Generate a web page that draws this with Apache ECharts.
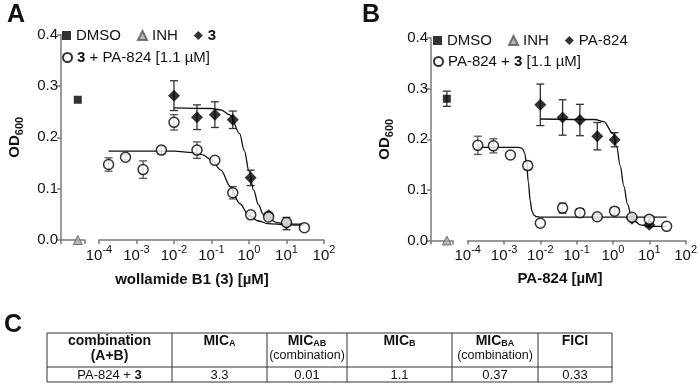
<!DOCTYPE html>
<html>
<head>
<meta charset="utf-8">
<script src="https://cdn.jsdelivr.net/npm/echarts@6/dist/echarts.min.js"></script>
<style>
  html, body { margin: 0; padding: 0; background: #fff; }
  #chart { width: 700px; height: 391px; }
</style>
</head>
<body>
<div id="chart"></div>
<script>
// ---- panel A: wollamide B1 (3) alone / with PA-824 [1.1 uM]
const dmsoA = 0.273;
const inhA = 0.0;
const concA3 = [0.01, 0.041, 0.123, 0.37, 1.11, 3.33, 10];
const odA3 = [0.281, 0.239, 0.244, 0.234, 0.121, 0.048, 0.032];
const errA3 = [0.029, 0.024, 0.025, 0.017, 0.015, 0.006, 0.012];
const concAmix = [1.8e-4, 5.1e-4, 1.5e-3, 4.6e-3, 0.01, 0.041, 0.123, 0.37, 1.11, 3.33, 10, 30];
const odAmix = [0.147, 0.161, 0.137, 0.175, 0.229, 0.175, 0.155, 0.092, 0.049, 0.045, 0.034, 0.024];
const errAmix = [0.013, 0.005, 0.017, 0.007, 0.015, 0.016, 0, 0.012, 0.004, 0, 0.004, 0];
// fitted curves
const fitA3x = [0.01, 0.1, 0.178, 0.316, 0.562, 0.75, 1, 1.33, 1.78, 2.37, 3.16, 5.62, 10, 30];
const fitA3y = [0.257, 0.256, 0.253, 0.243, 0.207, 0.174, 0.134, 0.097, 0.069, 0.051, 0.042, 0.034, 0.031, 0.031];
const fitAmixX = [1.8e-4, 0.01, 0.0316, 0.056, 0.1, 0.178, 0.316, 0.562, 1, 1.78, 3.16, 10, 30];
const fitAmixY = [0.173, 0.173, 0.170, 0.166, 0.156, 0.136, 0.104, 0.071, 0.048, 0.037, 0.032, 0.0295, 0.029];

// ---- panel B: PA-824 alone / with 3 [1.1 uM]
const dmsoB = 0.280;
const dmsoBerr = 0.015;
const inhB = 0.0;
const concBpa = [0.01, 0.041, 0.123, 0.37, 1.11, 3.33, 10];
const odBpa = [0.268, 0.243, 0.238, 0.206, 0.199, 0.043, 0.031];
const errBpa = [0.041, 0.035, 0.031, 0.027, 0.014, 0, 0.004];
const concBmix = [1.9e-4, 5.1e-4, 1.5e-3, 4.5e-3, 0.01, 0.041, 0.123, 0.37, 1.11, 3.33, 10, 30];
const odBmix = [0.188, 0.187, 0.169, 0.148, 0.034, 0.064, 0.055, 0.047, 0.058, 0.046, 0.042, 0.028];
const errBmix = [0.018, 0.014, 0, 0.008, 0, 0.010, 0.008, 0.004, 0.007, 0, 0.007, 0];
const fitBpaX = [0.01, 0.316, 0.562, 1, 1.26, 1.58, 2, 2.51, 3.16, 3.98, 5.62, 10, 30];
const fitBpaY = [0.240, 0.239, 0.235, 0.211, 0.186, 0.148, 0.107, 0.072, 0.050, 0.038, 0.031, 0.028, 0.028];
const fitBmixX = [1.9e-4, 2.5e-3, 2.95e-3, 3.31e-3, 3.72e-3, 4.17e-3, 4.68e-3, 5.25e-3, 5.89e-3, 6.61e-3, 7.94e-3, 0.01, 30];
const fitBmixY = [0.184, 0.184, 0.183, 0.180, 0.172, 0.152, 0.115, 0.079, 0.058, 0.050, 0.047, 0.046, 0.046];

// ---- panel C table
const colEdges = [47, 172, 267, 347, 452, 538, 612];
const headLine1 = ['{b|combination}', '{b|MIC}{s|A}', '{b|MIC}{s|AB}', '{b|MIC}{s|B}', '{b|MIC}{s|BA}', '{b|FICI}'];
const headLine2 = ['{b|(A+B)}', '', '(combination)', '', '(combination)', ''];
const rowCells = ['PA-824 + {b|3}', '3.3', '0.01', '1.1', '0.37', '0.33'];

const FONT = "'Liberation Sans', Arial, sans-serif";
const NARROW = "'Liberation Sans Narrow', 'Liberation Sans', Arial, sans-serif";
const AXIS_COLOR = '#7a7a7a';

const chart = echarts.init(document.getElementById('chart'));

const panels = [
  { top: 34.5, height: 205.5, yLeft: 61, breakW: 24, logLeft: 99, logW: 225, breakX: 0.7 },
  { top: 38, height: 202.5, yLeft: 431, breakW: 22, logLeft: 467.7, logW: 220.6, breakX: 0.72 }
];

const grids = [];
const xAxes = [];
const yAxes = [];
panels.forEach(p => {
  grids.push({ left: p.yLeft, top: p.top, width: p.breakW, height: p.height });
  grids.push({ left: p.logLeft, top: p.top, width: p.logW, height: p.height });
  xAxes.push({
    gridIndex: grids.length - 2, type: 'value', min: 0, max: 1, interval: 1,
    axisLine: { lineStyle: { color: AXIS_COLOR, width: 1.5 } },
    axisTick: { length: 4, lineStyle: { color: AXIS_COLOR, width: 1.5 } },
    axisLabel: { show: false }, splitLine: { show: false }
  });
  xAxes.push({
    gridIndex: grids.length - 1, type: 'log', logBase: 10, min: 1e-4, max: 100, splitNumber: 6,
    axisLine: { lineStyle: { color: AXIS_COLOR, width: 1.5 } },
    axisTick: { length: 4, lineStyle: { color: AXIS_COLOR, width: 1.5 } },
    axisLabel: {
      margin: 5, color: '#111', fontFamily: FONT,
      formatter: v => '{n|10}{e|' + Math.round(Math.log10(v)) + '}',
      rich: {
        n: { fontSize: 15, fontFamily: FONT, color: '#111', verticalAlign: 'bottom', lineHeight: 18 },
        e: { fontSize: 11, fontFamily: FONT, color: '#111', verticalAlign: 'bottom', lineHeight: 18, padding: [0, 0, 8, 0] }
      }
    },
    splitLine: { show: false }, minorTick: { show: false }
  });
  yAxes.push({
    gridIndex: grids.length - 2, type: 'value', min: 0, max: 0.4, interval: 0.1,
    axisLine: { show: true, lineStyle: { color: AXIS_COLOR, width: 1.5 } },
    axisTick: { show: true, length: 4, lineStyle: { color: AXIS_COLOR, width: 1.5 } },
    axisLabel: { fontSize: 15, color: '#111', fontFamily: FONT, margin: 3, formatter: v => v.toFixed(1) },
    splitLine: { show: false },
    name: '{b|OD}{s|600}', nameLocation: 'middle', nameGap: 39, nameRotate: 90,
    nameTextStyle: {
      rich: {
        b: { fontSize: 15, fontWeight: 'bold', fontFamily: FONT, color: '#111', verticalAlign: 'bottom', lineHeight: 18 },
        s: { fontSize: 11, fontWeight: 'bold', fontFamily: FONT, color: '#111', verticalAlign: 'bottom', lineHeight: 18, padding: [0, 0, -3, 0] }
      }
    }
  });
  yAxes.push({
    gridIndex: grids.length - 1, type: 'value', min: 0, max: 0.4, interval: 0.1, show: false
  });
});

function errorBars(xi, xs, ys, errs, color) {
  return {
    type: 'custom', xAxisIndex: xi, yAxisIndex: xi, z: 1, silent: true, clip: false,
    encode: { x: 0, y: [1, 2] },
    data: xs.map((x, i) => [x, ys[i] - errs[i], ys[i] + errs[i], errs[i]]).filter(d => d[3] > 0),
    renderItem: (params, api) => {
      const lo = api.coord([api.value(0), api.value(1)]);
      const hi = api.coord([api.value(0), api.value(2)]);
      const w = 4;
      const st = { stroke: color, lineWidth: 1.3 };
      return {
        type: 'group', children: [
          { type: 'line', shape: { x1: lo[0], y1: lo[1], x2: hi[0], y2: hi[1] }, style: st },
          { type: 'line', shape: { x1: lo[0] - w, y1: lo[1], x2: lo[0] + w, y2: lo[1] }, style: st },
          { type: 'line', shape: { x1: hi[0] - w, y1: hi[1], x2: hi[0] + w, y2: hi[1] }, style: st }
        ]
      };
    }
  };
}

function curve(xi, xs, ys) {
  return {
    type: 'line', xAxisIndex: xi, yAxisIndex: xi, z: 2, silent: true,
    data: xs.map((x, i) => [x, ys[i]]), showSymbol: false, symbol: 'none',
    smooth: 0.35, smoothMonotone: 'x',
    lineStyle: { color: '#111', width: 1.3 }
  };
}

const sqStyle = { color: '#000' };
const triStyle = { color: '#a8a8a8', borderColor: '#555', borderWidth: 1 };
const diaStyle = { color: '#000' };
const circStyle = { color: '#fff', borderColor: '#000', borderWidth: 1.5 };

const series = [
  // panel A
  { name: 'DMSO', type: 'scatter', xAxisIndex: 0, yAxisIndex: 0, symbol: 'rect', symbolSize: 8, itemStyle: sqStyle, z: 3, data: [[panels[0].breakX, dmsoA]] },
  { name: 'INH', type: 'scatter', xAxisIndex: 0, yAxisIndex: 0, symbol: 'triangle', symbolSize: 9, itemStyle: triStyle, z: 3, clip: false, data: [[panels[0].breakX, inhA]] },
  errorBars(1, concA3, odA3, errA3, '#333'),
  errorBars(1, concAmix, odAmix, errAmix, '#555'),
  curve(1, fitA3x, fitA3y),
  curve(1, fitAmixX, fitAmixY),
  { name: '3', type: 'scatter', xAxisIndex: 1, yAxisIndex: 1, symbol: 'diamond', symbolSize: 12, itemStyle: diaStyle, z: 3, data: concA3.map((x, i) => [x, odA3[i]]) },
  { name: '3 + PA-824 [1.1 µM]', type: 'scatter', xAxisIndex: 1, yAxisIndex: 1, symbol: 'circle', symbolSize: 10, itemStyle: circStyle, z: 4, data: concAmix.map((x, i) => [x, odAmix[i]]) },
  // panel B
  errorBars(2, [panels[1].breakX], [dmsoB], [dmsoBerr], '#333'),
  { name: 'DMSO', type: 'scatter', xAxisIndex: 2, yAxisIndex: 2, symbol: 'rect', symbolSize: 8, itemStyle: sqStyle, z: 3, data: [[panels[1].breakX, dmsoB]] },
  { name: 'INH', type: 'scatter', xAxisIndex: 2, yAxisIndex: 2, symbol: 'triangle', symbolSize: 9, itemStyle: triStyle, z: 3, clip: false, data: [[panels[1].breakX, inhB]] },
  errorBars(3, concBpa, odBpa, errBpa, '#333'),
  errorBars(3, concBmix, odBmix, errBmix, '#555'),
  curve(3, fitBpaX, fitBpaY),
  curve(3, fitBmixX, fitBmixY),
  { name: 'PA-824', type: 'scatter', xAxisIndex: 3, yAxisIndex: 3, symbol: 'diamond', symbolSize: 12, itemStyle: diaStyle, z: 3, data: concBpa.map((x, i) => [x, odBpa[i]]) },
  { name: 'PA-824 + 3 [1.1 µM]', type: 'scatter', xAxisIndex: 3, yAxisIndex: 3, symbol: 'circle', symbolSize: 10, itemStyle: circStyle, z: 4, data: concBmix.map((x, i) => [x, odBmix[i]]) }
];

const legendText = {
  fontSize: 15, color: '#111', fontFamily: FONT,
  rich: { b: { fontSize: 15, fontWeight: 'bold', color: '#111', fontFamily: FONT } }
};
const legendFmt = name => {
  if (name === '3') return '{b|3}';
  if (name === '3 + PA-824 [1.1 µM]') return '{b|3} + PA-824 [1.1 µM]';
  if (name === 'PA-824 + 3 [1.1 µM]') return 'PA-824 + {b|3} [1.1 µM]';
  return name;
};
function legend(left, top, names) {
  return {
    left, top, data: names, orient: 'horizontal', selectedMode: false,
    itemWidth: 9, itemHeight: 9, itemGap: 16, padding: 0,
    textStyle: legendText, formatter: legendFmt
  };
}

// table graphics
const tTop = 333, tMid = 367, tBot = 382;
const tableEls = [];
tableEls.push({ type: 'rect', shape: { x: colEdges[0], y: tTop, width: colEdges[6] - colEdges[0], height: tBot - tTop }, style: { fill: 'none', stroke: '#333', lineWidth: 1 } });
tableEls.push({ type: 'line', shape: { x1: colEdges[0], y1: tMid, x2: colEdges[6], y2: tMid }, style: { stroke: '#333', lineWidth: 1 } });
for (let i = 1; i < colEdges.length - 1; i++) {
  tableEls.push({ type: 'line', shape: { x1: colEdges[i], y1: tTop, x2: colEdges[i], y2: tBot }, style: { stroke: '#333', lineWidth: 1 } });
}
const cellRich = {
  b: { fontSize: 14, fontWeight: 'bold', fontFamily: NARROW, fill: '#111' },
  s: { fontSize: 9, fontWeight: 'bold', fontFamily: NARROW, fill: '#111', verticalAlign: 'bottom' }
};
for (let i = 0; i < 6; i++) {
  const cx = (colEdges[i] + colEdges[i + 1]) / 2;
  tableEls.push({ type: 'text', x: cx, y: 341, style: { text: headLine1[i], align: 'center', verticalAlign: 'middle', fontSize: 14, fontFamily: NARROW, fill: '#111', rich: cellRich } });
  if (headLine2[i]) tableEls.push({ type: 'text', x: cx, y: 356, style: { text: headLine2[i], align: 'center', verticalAlign: 'middle', fontSize: 12.5, fontFamily: NARROW, fill: '#111', rich: cellRich } });
  tableEls.push({ type: 'text', x: cx, y: 375, style: { text: rowCells[i], align: 'center', verticalAlign: 'middle', fontSize: 13, fontFamily: NARROW, fill: '#111', rich: { b: { fontSize: 13, fontWeight: 'bold', fontFamily: NARROW, fill: '#111' } } } });
}

const option = {
  animation: false,
  backgroundColor: '#fff',
  grid: grids,
  xAxis: xAxes,
  yAxis: yAxes,
  legend: [
    legend(62, 28, ['DMSO', 'INH', '3']),
    legend(62, 50, ['3 + PA-824 [1.1 µM]']),
    legend(433, 33, ['DMSO', 'INH', 'PA-824']),
    legend(433, 54, ['PA-824 + 3 [1.1 µM]'])
  ],
  graphic: [
    { type: 'text', left: 7, top: 3, style: { text: 'A', fontSize: 25, fontWeight: 'bold', fontFamily: FONT, fill: '#111' } },
    { type: 'text', left: 362, top: 3, style: { text: 'B', fontSize: 25, fontWeight: 'bold', fontFamily: FONT, fill: '#111' } },
    { type: 'text', left: 4, top: 313, style: { text: 'C', fontSize: 25, fontWeight: 'bold', fontFamily: FONT, fill: '#111' } },
    { type: 'text', x: 192, y: 280, style: { text: 'wollamide B1 (3) [µM]', align: 'center', verticalAlign: 'middle', fontSize: 15, fontWeight: 'bold', fontFamily: FONT, fill: '#111' } },
    { type: 'text', x: 560, y: 279, style: { text: 'PA-824 [µM]', align: 'center', verticalAlign: 'middle', fontSize: 15, fontWeight: 'bold', fontFamily: FONT, fill: '#111' } },
    { type: 'group', children: tableEls }
  ],
  series
};
chart.setOption(option);
</script>
</body>
</html>
